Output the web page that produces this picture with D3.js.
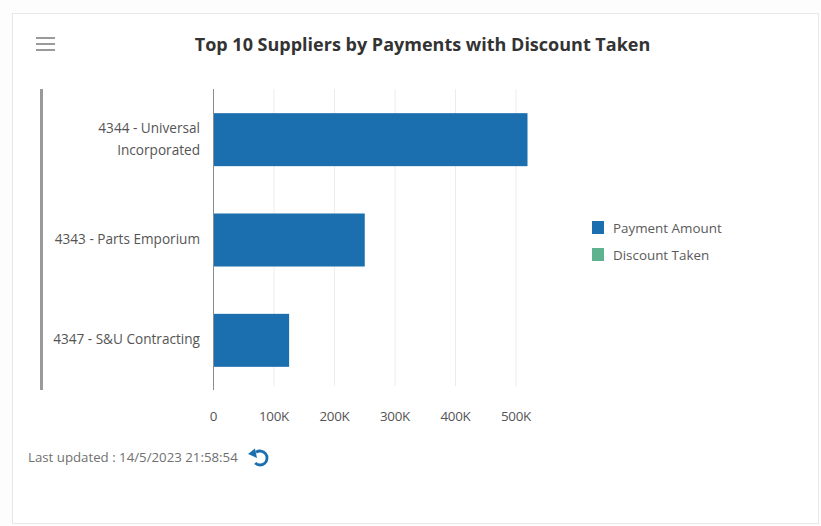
<!DOCTYPE html>
<html><head><meta charset="utf-8">
<script src="https://cdn.jsdelivr.net/npm/d3@7/dist/d3.min.js"></script>
<style>html,body{margin:0;padding:0;background:#fff}svg{display:block}text{font-family:"Open Sans",sans-serif}</style>
</head><body><svg id="c" width="821" height="526"></svg>
<script>
const titleText = "Top 10 Suppliers by Payments with Discount Taken";
const categories = [["4344 - Universal","Incorporated"],["4343 - Parts Emporium"],["4347 - S&U Contracting"]];
const paymentAmount = [519000, 250000, 125000];
const discountTaken = [0, 0, 0];
const seriesNames = ["Payment Amount","Discount Taken"];
const seriesColors = ["#1c6fae","#5fb28f"];
const tickValues = [0,100000,200000,300000,400000,500000];
const tickLabels = ["0","100K","200K","300K","400K","500K"];
const lastUpdated = "Last updated : 14/5/2023 21:58:54";

const svg = d3.select("#c");
svg.append("rect").attr("width",821).attr("height",526).attr("fill","#fdfdfd");
svg.append("rect").attr("x",12.5).attr("y",13.5).attr("width",806).attr("height",510).attr("fill","#fff").attr("stroke","#e8e8e8");

const x = d3.scaleLinear().domain([0,500000]).range([213.5,516]);
const y = d3.scaleBand().domain(d3.range(categories.length)).range([89,390]);

// grid
svg.append("g").selectAll("line").data(tickValues.slice(1)).join("line")
  .attr("x1",d=>x(d)).attr("x2",d=>x(d)).attr("y1",89).attr("y2",386).attr("stroke","#ececec").attr("stroke-width",1);

// bars
const barH = 53;
svg.append("g").selectAll("rect").data(paymentAmount).join("rect")
  .attr("x",x(0)).attr("y",(d,i)=>y(i)+y.bandwidth()/2-barH/2+0.5)
  .attr("width",d=>x(d)-x(0)).attr("height",barH).attr("fill",seriesColors[0]);
svg.append("g").selectAll("rect").data(discountTaken).join("rect")
  .attr("x",x(0)).attr("y",(d,i)=>y(i)+y.bandwidth()/2+barH/2)
  .attr("width",d=>x(d)-x(0)).attr("height",0).attr("fill",seriesColors[1]);

// axis lines
svg.append("line").attr("x1",213.5).attr("x2",213.5).attr("y1",89).attr("y2",390).attr("stroke","#8c8c8c");
svg.append("line").attr("x1",41.5).attr("x2",41.5).attr("y1",89).attr("y2",390).attr("stroke","#9a9a9a").attr("stroke-width",3);

// x labels
svg.append("g").selectAll("text").data(tickValues).join("text")
  .attr("x",d=>x(d)).attr("y",421).attr("text-anchor","middle").attr("font-size",13.4).attr("letter-spacing",-0.3).attr("fill","#555")
  .text((d,i)=>tickLabels[i]);

// y labels
const yl = svg.append("g");
categories.forEach((lines,i)=>{
  const cy = y(i)+y.bandwidth()/2;
  lines.forEach((t,j)=>{
    yl.append("text").attr("x",200).attr("y",cy+4+(lines.length>1?1:0)+(j-(lines.length-1)/2)*22)
      .attr("text-anchor","end").attr("font-size",13.6).attr("fill","#555").text(t);
  });
});

// title
svg.append("text").attr("x",422.5).attr("y",51).attr("text-anchor","middle").attr("font-size",18).attr("font-weight",700).attr("fill","#333").text(titleText);

// menu
svg.append("g").selectAll("line").data([38,44,50]).join("line")
  .attr("x1",36).attr("x2",55).attr("y1",d=>d).attr("y2",d=>d).attr("stroke","#9a9a9a").attr("stroke-width",2);

// legend
const lg = svg.append("g").selectAll("g").data(seriesNames).join("g").attr("transform",(d,i)=>`translate(592,${221+i*27})`);
lg.append("rect").attr("width",12).attr("height",13).attr("fill",(d,i)=>seriesColors[i]);
lg.append("text").attr("x",21).attr("y",12).attr("font-size",13.4).attr("fill","#5a5a5a").text(d=>d);

// footer
svg.append("text").attr("x",28).attr("y",462).attr("font-size",13.25).attr("fill","#707070").text(lastUpdated);
const ic = svg.append("g").attr("fill","none").attr("stroke","#1c6fae").attr("stroke-width",2.8);
ic.append("path").attr("d",d3.arc()({innerRadius:7,outerRadius:7,startAngle:-0.6,endAngle:3.9})).attr("transform","translate(260,458)");
svg.append("path").attr("d","M248,454 L255,448.5 L257,458 Z").attr("fill","#1c6fae");
</script></body></html>
